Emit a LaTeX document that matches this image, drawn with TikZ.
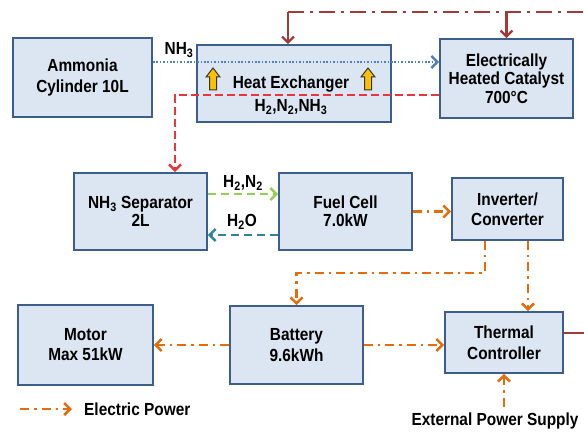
\documentclass[tikz,border=0pt]{standalone}
\usepackage{fontspec}
\setmainfont{Liberation Sans}
\newfontfamily\df{Liberation Sans}[FakeStretch=0.88]
\usetikzlibrary{arrows.meta,calc}
\definecolor{boxfill}{HTML}{DCE6F2}
\definecolor{boxline}{HTML}{3B5E8C}
\definecolor{dred}{HTML}{A33A3A}
\definecolor{bred}{HTML}{E8363C}
\definecolor{nblue}{HTML}{4F81BD}
\definecolor{hgreen}{HTML}{92D050}
\definecolor{wteal}{HTML}{31849B}
\definecolor{eorange}{HTML}{E46C0A}
\definecolor{yfill}{HTML}{FFC000}
\tikzset{
  txt/.style={font=\df\bfseries\fontsize{17.5}{20}\selectfont},
  blk/.style={rectangle, draw=boxline, line width=1.8pt, fill=boxfill, align=center, inner sep=0pt, txt},
  lbl/.style={inner sep=0pt, align=center, txt},
  tip/.style={-{Straight Barb[length=6pt,width=12pt]}},
  elec/.style={draw=eorange, line width=2.5pt, dash pattern=on 9pt off 5pt on 2.5pt off 5pt},
  heat/.style={draw=dred, line width=2.2pt},
  heatdd/.style={draw=dred, line width=2.5pt, dash pattern=on 16pt off 6pt on 3pt off 6pt},
  reform/.style={draw=bred, line width=2.5pt, dash pattern=on 8pt off 4pt},
  nhline/.style={draw=nblue, line width=2.5pt, dash pattern=on 1.6pt off 1.8pt},
  hnline/.style={draw=hgreen, line width=2.5pt, dash pattern=on 8pt off 5pt},
  holine/.style={draw=wteal, line width=2.5pt, dash pattern=on 8pt off 5pt},
  yarr/.style={draw=black!80, line width=1pt, fill=yfill},
  yup/.pic={\draw[yarr] (-3.5,11) -- (3.5,11) -- (3.5,-2) -- (7,-2) -- (0,-11) -- (-7,-2) -- (-3.5,-2) -- cycle;}
}
\begin{document}
\begin{tikzpicture}[x=1pt,y=-1pt]
\useasboundingbox (0,0) rectangle (584,433);
% boxes
\node[blk, minimum width=139pt, minimum height=79pt, font=\df\bfseries\fontsize{17.5}{21}\selectfont] (amm) at (82.5,77.5) {Ammonia\\Cylinder 10L};
\node[blk, minimum width=194pt, minimum height=77pt] (hx) at (294,83.5) {};
\node[lbl, font=\df\bfseries\fontsize{17.5}{23}\selectfont] (hxt) at (291,95) {Heat Exchanger\\H\textsubscript{2},N\textsubscript{2},NH\textsubscript{3}};
\node[blk, minimum width=133pt, minimum height=79pt, font=\df\bfseries\fontsize{17.5}{18.5}\selectfont] (cat) at (506.5,78.5) {Electrically\\Heated Catalyst\\700°C};
\node[blk, minimum width=133pt, minimum height=77pt, font=\df\bfseries\fontsize{17.5}{18}\selectfont] (sep) at (140.5,211.5) {NH\textsubscript{3} Separator\\2L};
\node[blk, minimum width=133pt, minimum height=77pt, font=\df\bfseries\fontsize{17.5}{18}\selectfont] (fc) at (345.5,211.5) {Fuel Cell\\7.0kW};
\node[blk, minimum width=111pt, minimum height=62pt] (inv) at (507.5,209) {Inverter/\\Converter};
\node[blk, minimum width=135pt, minimum height=80pt] (mot) at (85.5,345) {Motor\\Max 51kW};
\node[blk, minimum width=133pt, minimum height=78pt, font=\df\bfseries\fontsize{17.5}{21}\selectfont] (bat) at (296.5,345) {Battery\\9.6kWh};
\node[blk, minimum width=118pt, minimum height=61pt, font=\df\bfseries\fontsize{17.5}{21}\selectfont] (thc) at (504,342.5) {Thermal\\Controller};
% yellow heat arrows
\pic at (213,79) {yup};
\pic at (368,79) {yup};
% labels
\node[lbl] (lnh) at (179,50) {NH\textsubscript{3}};
\node[lbl] (lhn) at (243,183) {H\textsubscript{2},N\textsubscript{2}};
\node[lbl] (lho) at (242,222) {H\textsubscript{2}O};
\node[lbl] (ext) at (495,421) {External Power Supply};
\node[lbl, anchor=west] (legt) at (84,409) {Electric Power};
% helper coordinates
\coordinate (topL) at (288,12);
\coordinate (topR) at (584,12);
\coordinate (thR) at (584,333);
\coordinate (rc) at (175,95);
\coordinate (nhy) at (300,62);
\coordinate (gy) at (240,194);
\coordinate (ty) at (240,235);
\coordinate (ib) at (485,273);
\coordinate (it) at (528,280);
\coordinate (lg1) at (20,409);
\coordinate (lg2) at (72,409);
% heat supply (top)
\draw[heatdd] (topL) -- (topR);
\draw[heat, tip] (topL) -- (topL |- hx.north);
\draw[heat, tip] (cat.north |- topR) -- (cat.north);
\draw[heat] (thc.east |- thR) -- (thR);
% gas flows
\draw[nhline, tip] (amm.east |- nhy) -- (cat.west |- nhy);
\draw[reform, tip] (rc -| cat.west) -- (rc) -- (rc |- sep.north);
\draw[hnline, tip] (sep.east |- gy) -- (fc.west |- gy);
\draw[holine, tip] (fc.west |- ty) -- (sep.east |- ty);
% electric power
\draw[elec, tip] (fc.east) -- (fc.east -| inv.west);
\draw[elec, tip] (ib |- inv.south) -- (ib) -| (bat.north);
\draw[elec, tip] (it |- inv.south) -- (it |- thc.north);
\draw[elec, tip] (bat.west) -- (mot.east);
\draw[elec, tip] (bat.east) -- (bat.east -| thc.west);
\draw[elec, tip] ($(thc.south |- ext.north)+(0,-6)$) -- (thc.south);
\draw[elec, tip] (lg1) -- (lg2);
\end{tikzpicture}
\end{document}
